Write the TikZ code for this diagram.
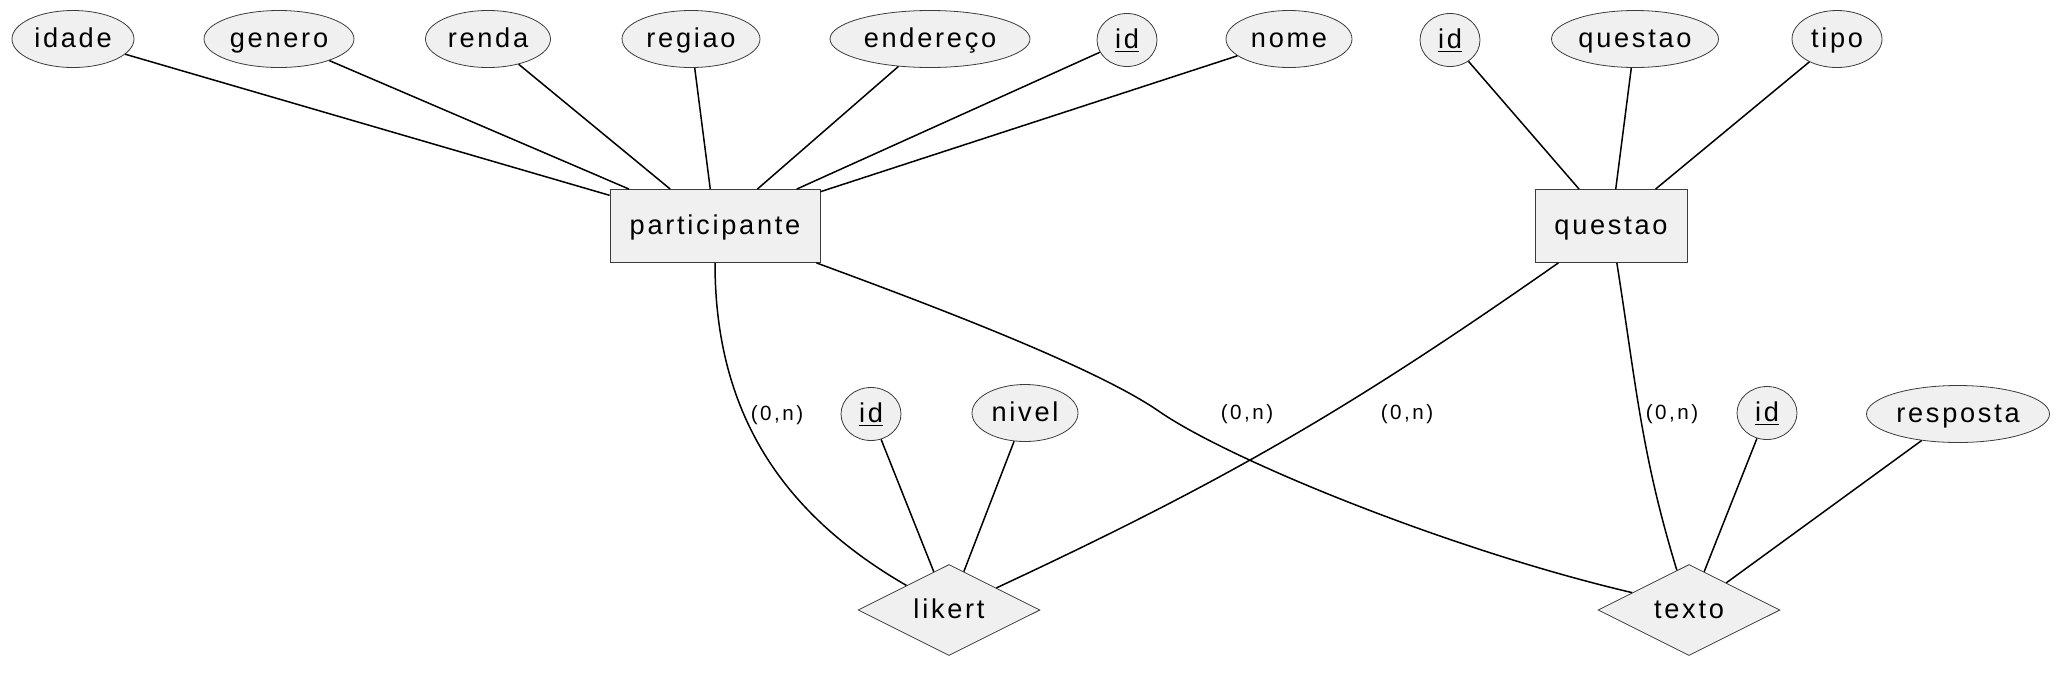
\documentclass[tikz,border=0pt]{standalone}
\usepackage{fontspec}
\setmainfont[LetterSpace=10]{Liberation Sans}
\newfontfamily\cardfont[LetterSpace=12]{Liberation Sans}
\usetikzlibrary{shapes.geometric}

\definecolor{boxfill}{HTML}{F0F0F0}
\definecolor{boxline}{HTML}{3C3C3C}

\begin{document}
\begin{tikzpicture}[x=0.5pt, y=-0.5pt,
        attr/.style={ellipse, draw=boxline, fill=boxfill, line width=0.4pt, inner sep=0pt,
            minimum height=28.5pt, text height=10pt, text depth=2pt, font=\fontsize{13.6}{16}\selectfont},
        key/.style={attr, minimum width=30pt, minimum height=26.5pt},
        entity/.style={rectangle, draw=boxline, fill=boxfill, line width=0.4pt, inner sep=0pt,
            minimum height=36.5pt, text height=10pt, text depth=2pt, font=\fontsize{13.6}{16}\selectfont},
        rel/.style={diamond, aspect=2, draw=boxline, fill=boxfill, line width=0.4pt, inner sep=0pt,
            minimum width=91pt, minimum height=45.5pt, text height=10pt, text depth=2pt,
            font=\fontsize{13.6}{16}\selectfont},
        card/.style={text height=7.5pt, text depth=2pt, font=\cardfont\fontsize{10.3}{12}\selectfont},
        link/.style={line width=0.75pt}]
    \useasboundingbox (0, 0) rectangle (2062, 676);

    % entidades
    \node[entity, minimum width=105pt] (participante) at (715, 226) {participante};
    \node[entity, minimum width=76pt] (questao) at (1611, 226) {questao};

    % atributos de participante
    \node[attr, minimum width=61pt] (idade) at (73, 39) {idade};
    \node[attr, minimum width=75pt] (genero) at (279, 39) {genero};
    \node[attr, minimum width=62.5pt] (renda) at (488, 39) {renda};
    \node[attr, minimum width=69pt] (regiao) at (691, 39) {regiao};
    \node[attr, minimum width=100pt] (endereco) at (930, 39) {endereço};
    \node[key] (pid) at (1127, 40) {\underline{id}};
    \node[attr, minimum width=63pt] (nome) at (1289, 39) {nome};

    % atributos de questao
    \node[key] (qid) at (1450, 40) {\underline{id}};
    \node[attr, minimum width=83.5pt] (qtexto) at (1635, 39) {questao};
    \node[attr, minimum width=45pt] (tipo) at (1837, 39) {tipo};

    % relacionamentos
    \node[rel] (likert) at (949, 610) {likert};
    \node[rel] (texto) at (1689, 610) {texto};

    \node[key] (lid) at (871, 414) {\underline{id}};
    \node[attr, minimum width=53pt] (nivel) at (1025, 413) {nivel};
    \node[key] (tid) at (1767, 413) {\underline{id}};
    \node[attr, minimum width=91.5pt] (resposta) at (1958, 414) {resposta};

    \foreach \a in {idade, genero, renda, regiao, endereco, pid, nome}
        \draw[link] (\a) -- (participante);
    \foreach \a in {qid, qtexto, tipo}
        \draw[link] (\a) -- (questao);
    \draw[link] (lid) -- (likert);
    \draw[link] (nivel) -- (likert);
    \draw[link] (tid) -- (texto);
    \draw[link] (resposta) -- (texto);

    % cardinalidades
    \draw[link] (participante) to[out=-90, in=150] (likert);
    \draw[link] (participante.-20) .. controls (950, 312) and (1100, 370) .. (1160, 412)
        .. controls (1230, 460) and (1450, 550) .. (texto.163);
    \draw[link] (questao) to[out=215, in=25] (likert);
    \draw[link] (questao) to[out=-81, in=107] (texto);

    \node[card] (c1) at (777, 415) {(0,n)};
    \node[card] (c2) at (1247, 414) {(0,n)};
    \node[card] (c3) at (1407, 414) {(0,n)};
    \node[card] (c4) at (1672, 414) {(0,n)};
\end{tikzpicture}
\end{document}
